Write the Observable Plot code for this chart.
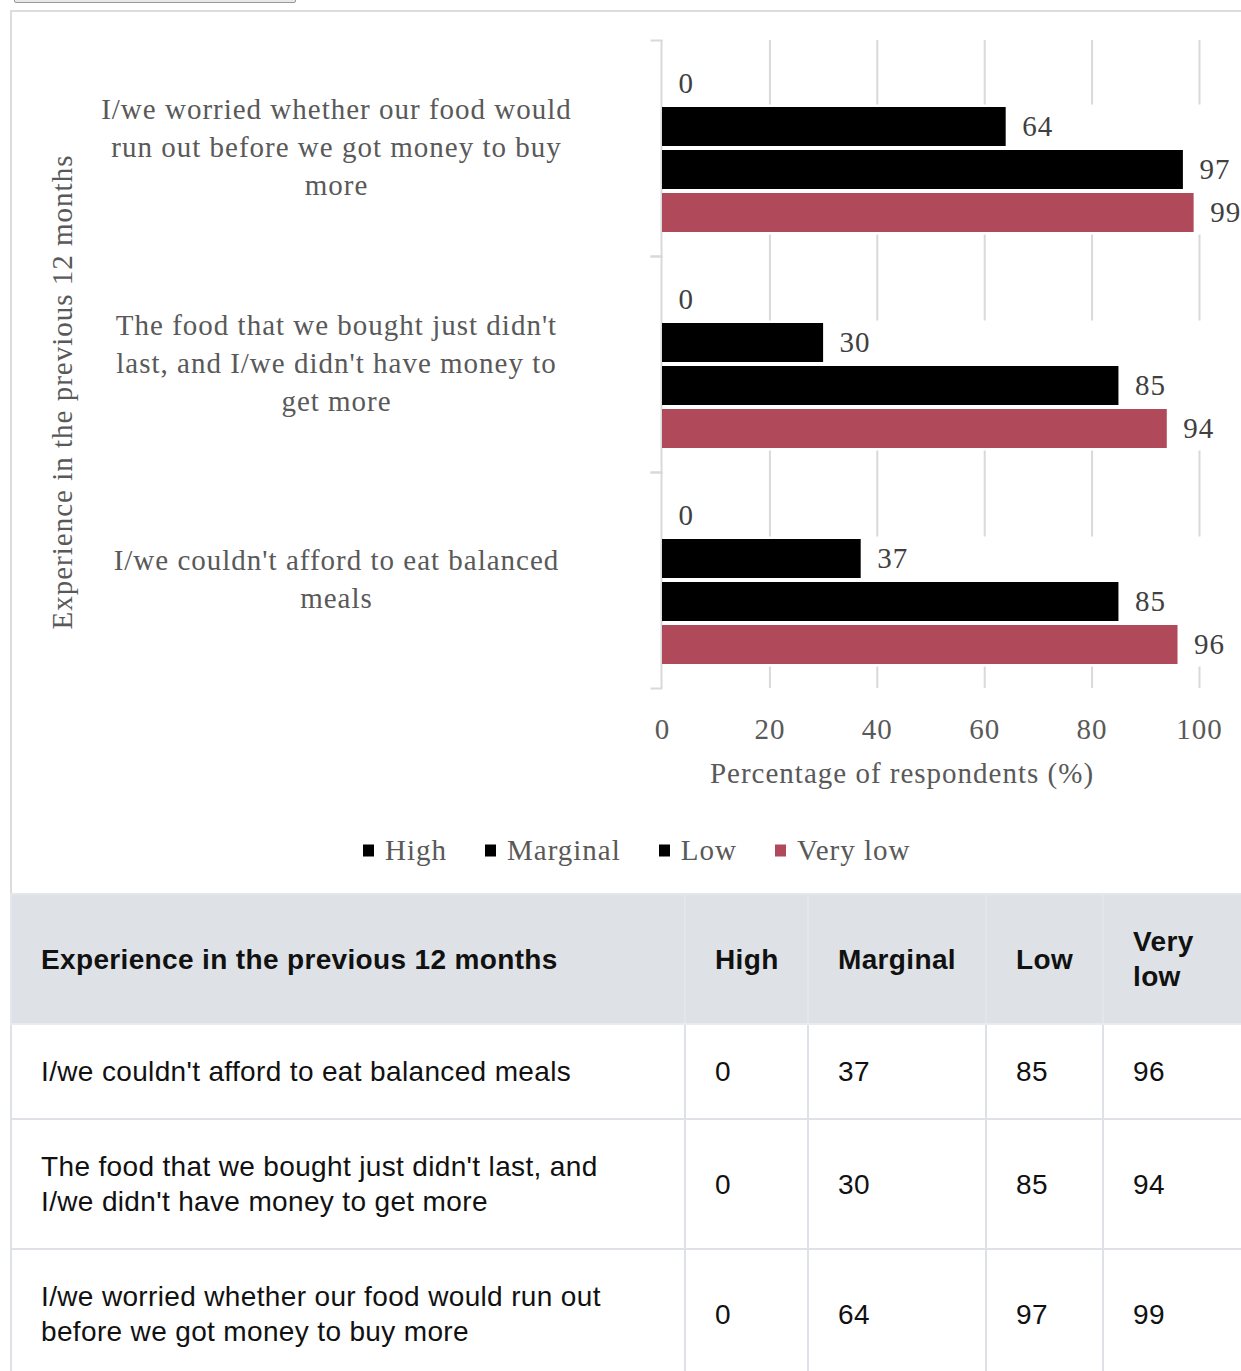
<!DOCTYPE html>
<html>
<head>
<meta charset="utf-8">
<script src="https://cdn.jsdelivr.net/npm/d3@7"></script>
<script src="https://cdn.jsdelivr.net/npm/@observablehq/plot@0.6"></script>
<style>
  html, body { margin: 0; padding: 0; background: #fff; overflow: hidden; }
  body { position: relative; width: 1241px; height: 1371px; }
  .btn { position: absolute; left: 14px; top: -20px; width: 280px; height: 21px; background: #e8e8e8; border: 1px solid #9a9a9a; border-radius: 2px; }
  .box { position: absolute; left: 10px; top: 10px; width: 1400px; height: 1500px; border-left: 2px solid #dcdcdc; border-top: 2px solid #dcdcdc; }
  #chart { position: absolute; left: 0; top: 0; }
  .serif { font-family: "Liberation Serif", "Times New Roman", serif; font-size: 29px; letter-spacing: 1px; color: #595959; white-space: nowrap; }
  #ytitle { position: absolute; left: 62px; top: 392px; transform: translate(-50%, -50%) rotate(-90deg); }
  #xtitle { position: absolute; left: 902px; top: 773px; transform: translate(-50%, -50%); }
  #legend { position: absolute; left: 363px; top: 850px; transform: translateY(-50%); display: flex; align-items: center; }
  #legend .item { display: flex; align-items: center; margin-right: 38px; }
  #legend .sw { width: 11px; height: 12px; margin-right: 11px; }
  table { position: absolute; left: 10px; top: 893px; border-collapse: collapse; table-layout: fixed; width: 1252px;
          font-family: "Liberation Sans", Arial, sans-serif; font-size: 28px; letter-spacing: 0.35px; line-height: 35px; color: #111; }
  th, td { padding: 29px 29px; text-align: left; vertical-align: middle; border: 2px solid #dee2e6; }
  th { background: #dee2e6; font-weight: bold; border-color: #e4e7ea; border-bottom-color: #e9ecef; }
</style>
</head>
<body>
<div class="btn"></div>
<div class="box"></div>
<div id="chart"></div>
<div id="ytitle" class="serif"></div>
<div id="xtitle" class="serif"></div>
<div id="legend" class="serif"></div>
<table id="tbl"></table>
<script>
// ---- data ----
const categories = [
  "I/we couldn't afford to eat balanced meals",
  "The food that we bought just didn't last, and I/we didn't have money to get more",
  "I/we worried whether our food would run out before we got money to buy more"
];
const series = ["High", "Marginal", "Low", "Very low"];
const high = [0, 0, 0];
const marginal = [37, 30, 64];
const low = [85, 85, 97];
const veryLow = [96, 94, 99];
const yTitle = "Experience in the previous 12 months";
const xTitle = "Percentage of respondents (%)";
const xTicks = [0, 20, 40, 60, 80, 100];
const colors = ["#000000", "#000000", "#000000", "#b0495a"];

const values = [high, marginal, low, veryLow];
const rows = categories.flatMap((c, i) => series.map((s, j) => ({category: c, series: s, value: values[j][i]})));
const chartOrder = categories.slice().reverse();

// wrap labels using real font metrics
const ctx = document.createElement("canvas").getContext("2d");
ctx.font = "29px 'Liberation Serif'";
const measure = s => ctx.measureText(s).width + s.length * 1;
function wrap(text, maxW) {
  const words = text.split(" ");
  const lines = [];
  let cur = "";
  for (const w of words) {
    const t = cur ? cur + " " + w : w;
    if (cur && measure(t) > maxW) { lines.push(cur); cur = w; } else cur = t;
  }
  if (cur) lines.push(cur);
  return lines.join("\n");
}

const grey = "#d9d9d9";
const plot = Plot.plot({
  width: 1241,
  height: 800,
  marginLeft: 662,
  marginRight: 42,
  marginTop: 39,
  marginBottom: 112,
  x: {domain: [0, 100]},
  y: {domain: series, paddingInner: 0.1, paddingOuter: 0.55, axis: null},
  fy: {domain: chartOrder, padding: 0, axis: null},
  color: {domain: series, range: colors},
  style: {fontFamily: "'Liberation Serif', 'Times New Roman', serif", letterSpacing: "1px", background: "transparent", overflow: "visible"},
  marks: [
    Plot.gridX({ticks: xTicks.filter(t => t > 0), stroke: grey, strokeOpacity: 1, strokeWidth: 2}),
    Plot.barX(rows.filter(d => d.value > 0), {x1: 0, x2: 100, y: "series", fy: "category", fill: "white", insetTop: -2.5, insetBottom: -2.5, insetRight: -3}),
    Plot.ruleX([0], {stroke: grey, strokeWidth: 2, dx: -1}),
    Plot.frame({anchor: "top", stroke: grey, strokeWidth: 2, insetLeft: -11, insetRight: 538}),
    Plot.frame({anchor: "bottom", stroke: grey, strokeWidth: 2, insetLeft: -11, insetRight: 538}),
    Plot.barX(rows, {x: "value", y: "series", fy: "category", fill: "series"}),
    Plot.text(rows, {x: "value", y: "series", fy: "category", text: d => String(d.value), dx: 16, textAnchor: "start", fill: "#404040", fontSize: 29}),
    Plot.text(categories, {fy: d => d, text: d => wrap(d, 478), frameAnchor: "left", dx: -326, dy: -4, textAnchor: "middle", lineAnchor: "middle", lineHeight: 1.31, fontSize: 29, fill: "#595959"}),
    Plot.axisX({ticks: xTicks, tickSize: 0, tickPadding: 30, fontSize: 29, color: "#595959", label: null})
  ]
});
document.getElementById("chart").appendChild(plot);

document.getElementById("ytitle").textContent = yTitle;
document.getElementById("xtitle").textContent = xTitle;

const legend = document.getElementById("legend");
series.forEach((s, j) => {
  const it = document.createElement("div");
  it.className = "item";
  const sw = document.createElement("span");
  sw.className = "sw";
  sw.style.background = colors[j];
  const t = document.createElement("span");
  t.textContent = s;
  it.appendChild(sw); it.appendChild(t);
  legend.appendChild(it);
});

// table
const tbl = document.getElementById("tbl");
const widths = [674, 123, 178, 117, 160];
const cg = document.createElement("colgroup");
widths.forEach(w => { const c = document.createElement("col"); c.style.width = w + "px"; cg.appendChild(c); });
tbl.appendChild(cg);
const thead = document.createElement("thead");
const hr = document.createElement("tr");
[yTitle, ...series].forEach(h => { const th = document.createElement("th"); th.textContent = h; hr.appendChild(th); });
thead.appendChild(hr);
tbl.appendChild(thead);
const tbody = document.createElement("tbody");
categories.forEach((c, i) => {
  const tr = document.createElement("tr");
  const td0 = document.createElement("td"); td0.textContent = c; tr.appendChild(td0);
  values.forEach(v => { const td = document.createElement("td"); td.textContent = v[i]; tr.appendChild(td); });
  tbody.appendChild(tr);
});
tbl.appendChild(tbody);
</script>
</body>
</html>
